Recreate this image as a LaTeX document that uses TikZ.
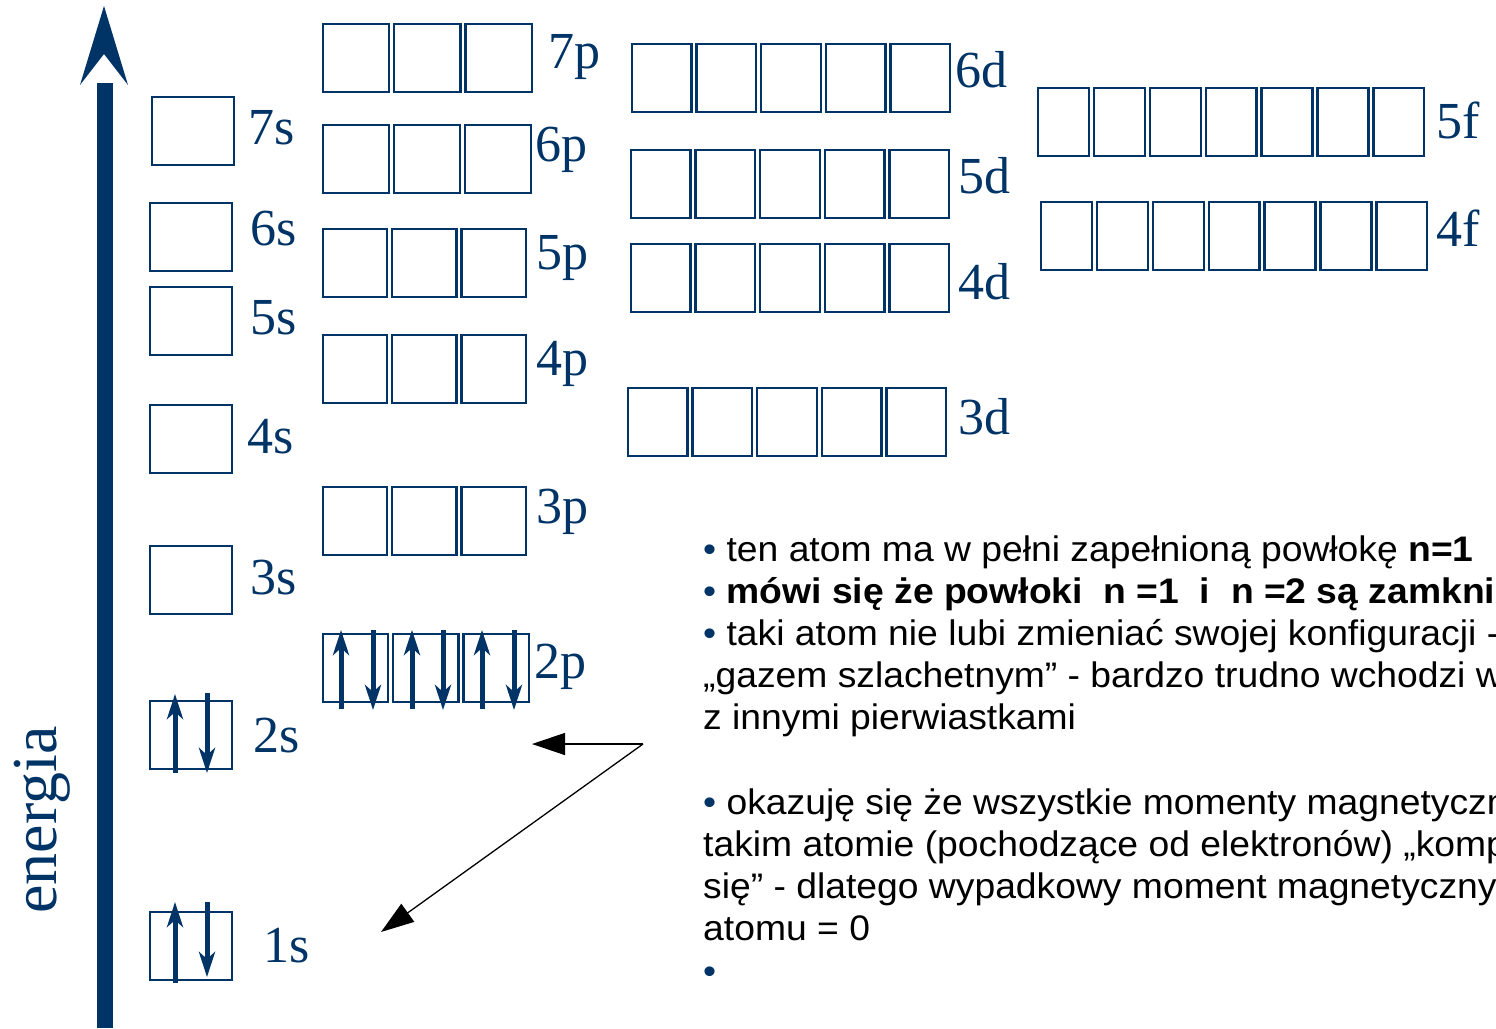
\documentclass[tikz,border=0pt]{standalone}
\usepackage{fontspec}
\setmainfont{Liberation Serif}
\newfontfamily\notefont[FakeStretch=1.05]{Liberation Sans}
\usetikzlibrary{arrows.meta}
\definecolor{orbblue}{HTML}{003366}
\newcommand\bul{{\color{orbblue}\textbullet}\ }

\begin{document}
\begin{tikzpicture}[x=1pt,y=-1pt]

% Define styles
\tikzstyle{cell}=[draw=orbblue, line width=2.3pt]
\tikzstyle{orb}=[font=\fontsize{52}{56}\selectfont, text=orbblue, anchor=west, inner sep=0pt]
\tikzstyle{spin}=[draw=orbblue, line width=5pt, -{Stealth[length=25pt,width=16pt,inset=7pt]}]
\tikzstyle{note}=[font=\notefont\fontsize{35.5}{42}\selectfont, anchor=base west, inner sep=0pt]
\tikzstyle{pointer}=[draw=black, line width=1.3pt, -{Triangle[length=33pt,width=22pt]}]

% Parameters
\def\cellh{68}
\def\gap{5}
\def\lineskip{42.2}

\useasboundingbox (0,0) rectangle (1496,1028);
\clip (0,0) rectangle (1496,1028);

% Energy axis
\fill[orbblue] (97,83) rectangle (113,1028);
\fill[orbblue] (104,6) -- (128,85) -- (104,54) -- (80,85) -- cycle;
\node[rotate=90, text=orbblue, font=\fontsize{64}{70}\selectfont] (energia) at (42,820) {energia};

% Orbital boxes: x / y / cell width / cells / label / label x / label y
\foreach \x/\y/\w/\n/\lbl/\lx/\ly in {
  152/97/82/1/7s/248/128, 150/203/82/1/6s/250/229, 150/287/82/1/5s/250/318,
  150/405/82/1/4s/247/437, 150/546/82/1/3s/250/578, 150/701/82/1/2s/253/736,
  150/912/82/1/1s/263/946,
  323/24/66.3/3/7p/548/57, 323/125/66/3/6p/535/150, 323/229/64.3/3/5p/536/258,
  323/335/64.3/3/4p/536/364, 323/487/64.3/3/3p/536/512, 323/634/65.3/3/2p/534/667,
  632/44/59.6/5/6d/955/70, 631/150/59.6/5/5d/958/176, 631/244/59.6/5/4d/958/282,
  628/388/59.6/5/3d/958/417,
  1038/88/50.9/7/5f/1436/120, 1041/202/50.9/7/4f/1436/228} {
  \foreach \i in {1,...,\n} {
    \draw[cell] ({\x+(\i-1)*(\w+\gap)},\y) rectangle ++(\w,\cellh);
  }
  \node[orb] (l\lbl) at (\lx,\ly) {\lbl};
}

% Electrons: x / tail / tip
\foreach \x/\a/\b in {175/773/694, 207/693/773, 175/983/902, 207/902/977,
  341/709/630, 373/630/710, 412/709/630, 443/630/710, 482/709/630, 514/630/710} {
  \draw[spin] (\x,\a) -- (\x,\b);
}

% Notes
\foreach \k/\txt in {
  0/{\bul ten atom ma w pełni zapełnioną powłokę \textbf{n=1}},
  1/{\bul\textbf{mówi się że powłoki\ \ n =1\ \ i\ \ n =2 są zamkni}},
  2/{\bul taki atom nie lubi zmieniać swojej konfiguracji -},
  3/{„gazem szlachetnym” - bardzo trudno wchodzi w},
  4/{z innymi pierwiastkami},
  6/{\bul okazuję się że wszystkie momenty magnetyczn},
  7/{takim atomie (pochodzące od elektronów) „komp},
  8/{się” - dlatego wypadkowy moment magnetyczny},
  9/{atomu = 0},
  10/{\bul}} {
  \node[note] (line\k) at (703,{561+\lineskip*\k}) {\txt};
}

% Pointers
\coordinate (src) at (643,744);
\coordinate (tip2s) at (532,744);
\coordinate (tip1s) at (381,932);
\draw[pointer] (src) -- (tip2s);
\draw[pointer] (src) -- (tip1s);

\end{tikzpicture}
\end{document}
